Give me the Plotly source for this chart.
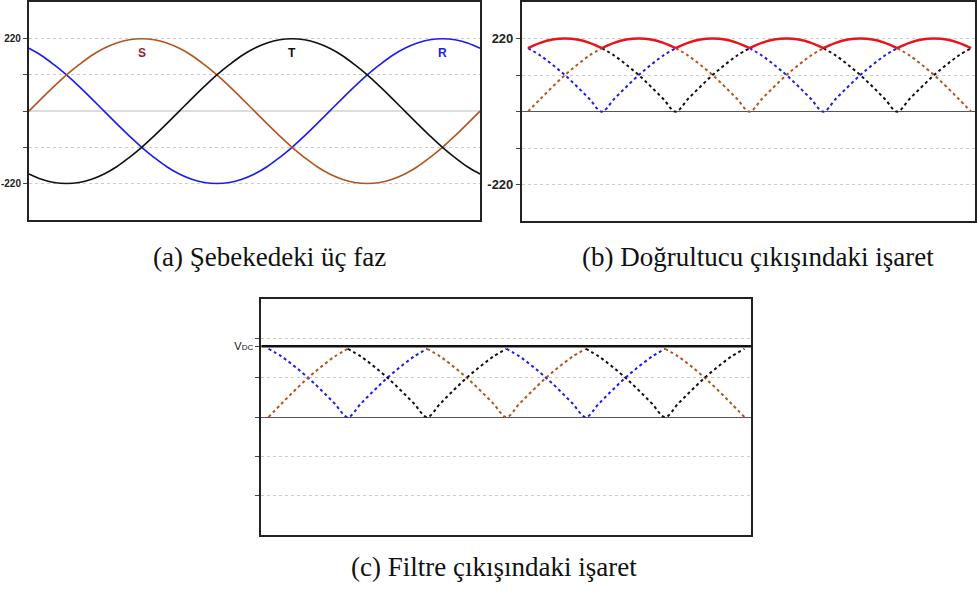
import plotly.graph_objects as go

# ---- data (phase voltages, 10 degree steps) ----
angle_deg = list(range(0, 361, 10))
phase_R = [191, 169, 141, 110, 75, 38, 0, -38, -75, -110, -141, -169, -191, -207, -217, -220,
           -217, -207, -191, -169, -141, -110, -75, -38, 0, 38, 75, 110, 141, 169, 191, 207,
           217, 220, 217, 207, 191]
phase_S = [0, 38, 75, 110, 141, 169, 191, 207, 217, 220, 217, 207, 191, 169, 141, 110, 75, 38,
           0, -38, -75, -110, -141, -169, -191, -207, -217, -220, -217, -207, -191, -169, -141,
           -110, -75, -38, 0]
phase_T = [-191, -207, -217, -220, -217, -207, -191, -169, -141, -110, -75, -38, 0, 38, 75, 110,
           141, 169, 191, 207, 217, 220, 217, 207, 191, 169, 141, 110, 75, 38, 0, -38, -75, -110,
           -141, -169, -191]
phase_names = ["R", "S", "T"]
phase_colors = ["#1c1cf0", "#b4541e", "#111111"]
label_colors = ["#1c1cf0", "#9b1b30", "#111111"]
label_angles = [330, 90, 210]
label_level = 177
y_tick_vals = [-220, -110, 0, 110, 220]
y_tick_text = ["-220", "", "", "", "220"]
vdc_level = 198
captions = ["(a) Şebekedeki üç faz", "(b) Doğrultucu çıkışındaki işaret", "(c) Filtre çıkışındaki işaret"]

phases = [phase_R, phase_S, phase_T]
rectified = [[abs(v) for v in p] for p in phases]
envelope = [max(r[i] for r in rectified) for i in range(len(angle_deg))]

W, H = 977, 598


def px_x(a, b):
    return [a / W, b / W]


def px_y(top, bottom):
    return [1 - bottom / H, 1 - top / H]


fig = go.Figure()

# (a) three phases
for p, name, col in zip(phases, phase_names, phase_colors):
    fig.add_trace(go.Scatter(x=angle_deg, y=p, mode="lines", name=name,
                             line=dict(color=col, width=1.6, shape="spline"),
                             xaxis="x", yaxis="y", showlegend=False))


def dotted_parts(r):
    out = []
    for i, v in enumerate(r):
        others_at_max = sum(1 for rr in rectified if abs(rr[i] - envelope[i]) < 0.5)
        if v < envelope[i] - 0.5 or others_at_max > 1:
            out.append(v)
        else:
            out.append(None)
    return out


# (b) rectified with envelope, (c) rectified only
for xa, ya in [("x2", "y2"), ("x3", "y3")]:
    for r, name, col in zip(rectified, phase_names, phase_colors):
        fig.add_trace(go.Scatter(x=angle_deg, y=dotted_parts(r), mode="lines", name=name,
                                 line=dict(color=col, width=2, dash="dot", shape="spline"),
                                 connectgaps=False, xaxis=xa, yaxis=ya, showlegend=False))

# envelope (one hump per 60 degrees)
env_x, env_y = [], []
for j in range(6):
    for i in range(6 * j, 6 * j + 7):
        env_x.append(angle_deg[i])
        env_y.append(envelope[i])
    env_x.append(None)
    env_y.append(None)
fig.add_trace(go.Scatter(x=env_x, y=env_y, mode="lines", line=dict(color="#e8141c", width=2.6, shape="spline"),
                         connectgaps=False, xaxis="x2", yaxis="y2", showlegend=False))

common_x = dict(showgrid=False, showticklabels=False, ticks="", zeroline=False,
                showline=True, linecolor="#222", linewidth=2, mirror=True)


def yax(domain, tickfont, zerocolor, zerowidth, vals, text):
    return dict(domain=domain, range=[-330, 330], tickvals=vals, ticktext=text,
                ticks="outside", ticklen=4, tickcolor="#444", tickfont=tickfont,
                showgrid=True, gridcolor="#cccccc", griddash="dot", gridwidth=1,
                zeroline=True, zerolinecolor=zerocolor, zerolinewidth=zerowidth,
                showline=True, linecolor="#222", linewidth=2, mirror=True, fixedrange=True)


fig.update_layout(
    width=W, height=H, margin=dict(l=0, r=0, t=0, b=0),
    paper_bgcolor="white", plot_bgcolor="white",
    xaxis=dict(domain=px_x(29, 481), range=[0, 360], anchor="y", **common_x),
    yaxis=yax(px_y(0.5, 218.5), dict(family="Liberation Sans, Arial", size=10, color="#222", weight="bold"),
              "#dddddd", 2, y_tick_vals, y_tick_text),
    xaxis2=dict(domain=px_x(523, 977), range=[-4.9, 363.2], anchor="y2", **common_x),
    yaxis2=dict(anchor="x2", **yax(px_y(0, 220), dict(family="Liberation Sans, Arial", size=13, color="#222", weight="bold"),
                                   "#555555", 1, y_tick_vals, y_tick_text)),
    xaxis3=dict(domain=px_x(262, 753), range=[-5.3, 365.3], anchor="y3", **common_x),
    yaxis3=dict(anchor="x3", **yax(px_y(298, 535), dict(family="Liberation Sans, Arial", size=11, color="#111"),
                                   "#555555", 1, y_tick_vals + [vdc_level],
                                   ["", "", "", "", "", "V<span style='font-size:8px'>DC</span>"])),
)

# VDC filter output level
fig.add_shape(type="line", xref="x3 domain", x0=0, x1=1, yref="y3", y0=vdc_level, y1=vdc_level,
              line=dict(color="#111", width=2.5))

# phase labels
for name, col, ang in zip(phase_names, label_colors, label_angles):
    fig.add_annotation(x=ang, y=label_level, xref="x", yref="y", text="<b>%s</b>" % name,
                       showarrow=False, font=dict(family="Liberation Sans, Arial", size=12, color=col))

# captions
cap_pos = [(270, 256), (760, 256), (495, 567)]
for text, (cx, cy) in zip(captions, cap_pos):
    fig.add_annotation(x=cx / W, y=1 - cy / H, xref="paper", yref="paper", text=text, showarrow=False,
                       xanchor="center", yanchor="middle",
                       font=dict(family="Liberation Serif, Times New Roman, serif", size=27, color="#111"))

fig.write_html("out.html", config={"displayModeBar": False, "staticPlot": True},
               post_script="document.body.style.margin='0';document.body.style.overflow='hidden';")
